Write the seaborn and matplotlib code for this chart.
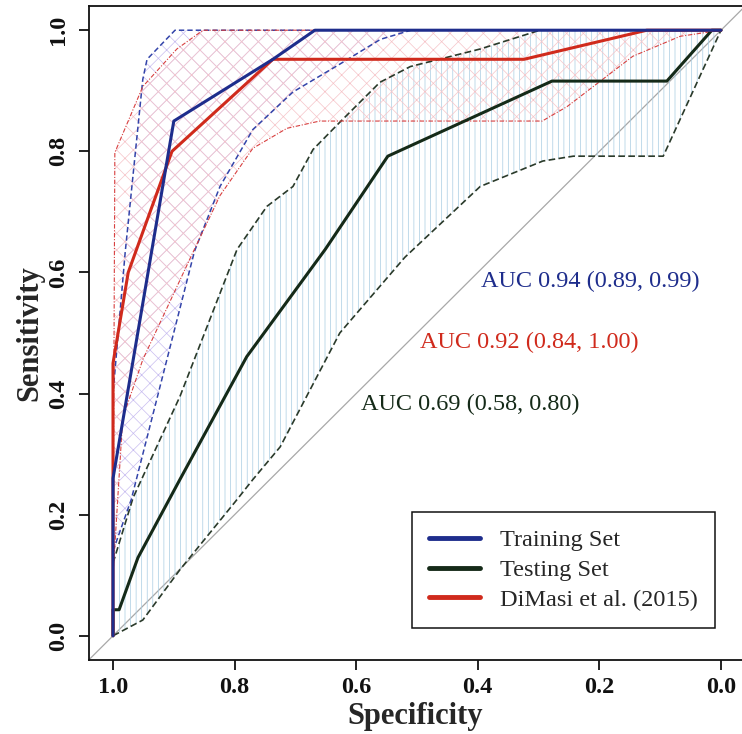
import matplotlib
matplotlib.use("Agg")
import matplotlib.pyplot as plt
import seaborn as sns
import numpy as np
from matplotlib.lines import Line2D

# ---------------- data ----------------
train_spec = [1.0, 1.0, 0.90, 0.737, 0.668, 0.0]
train_sens = [0.0, 0.26, 0.85, 0.952, 1.0, 1.0]

test_spec = [1.0, 1.0, 0.99, 0.959, 0.89, 0.78, 0.651, 0.548, 0.278, 0.089, 0.015, 0.0]
test_sens = [0.0, 0.043, 0.043, 0.129, 0.258, 0.461, 0.638, 0.792, 0.916, 0.916, 1.0, 1.0]

dimasi_spec = [1.0, 1.0, 0.975, 0.903, 0.737, 0.324, 0.122, 0.0]
dimasi_sens = [0.0, 0.45, 0.60, 0.80, 0.952, 0.952, 1.0, 1.0]

# confidence bands
train_up_spec = [1.0, 1.0, 0.98, 0.951, 0.944, 0.898, 0.0]
train_up_sens = [0.14, 0.40, 0.633, 0.919, 0.952, 1.0, 1.0]
train_lo_spec = [1.0, 0.97, 0.866, 0.824, 0.77, 0.704, 0.627, 0.56, 0.51, 0.0]
train_lo_sens = [0.14, 0.225, 0.635, 0.742, 0.836, 0.898, 0.944, 0.985, 1.0, 1.0]

dimasi_up_spec = [1.0, 0.997, 0.951, 0.895, 0.852, 0.0]
dimasi_up_sens = [0.10, 0.798, 0.907, 0.969, 1.0, 1.0]
dimasi_lo_spec = [1.0, 0.984, 0.951, 0.87, 0.824, 0.77, 0.714, 0.66, 0.294, 0.253, 0.145, 0.067, 0.0]
dimasi_lo_sens = [0.10, 0.36, 0.456, 0.63, 0.727, 0.805, 0.838, 0.85, 0.85, 0.874, 0.957, 0.99, 1.0]

test_up_spec = [1.0, 0.967, 0.89, 0.796, 0.747, 0.704, 0.671, 0.627, 0.561, 0.511, 0.396, 0.298, 0.0]
test_up_sens = [0.12, 0.228, 0.395, 0.638, 0.709, 0.742, 0.803, 0.848, 0.914, 0.94, 0.969, 1.0, 1.0]
test_lo_spec = [1.0, 0.951, 0.89, 0.796, 0.77, 0.725, 0.627, 0.52, 0.396, 0.293, 0.243, 0.095, 0.0]
test_lo_sens = [0.0, 0.026, 0.109, 0.225, 0.258, 0.312, 0.5, 0.625, 0.742, 0.784, 0.792, 0.792, 1.0]

labels = ["Training Set", "Testing Set", "DiMasi et al. (2015)"]
auc_texts = ["AUC 0.94 (0.89, 0.99)", "AUC 0.69 (0.58, 0.80)", "AUC 0.92 (0.84, 1.00)"]
auc_pos = [(0.215, 0.585), (0.413, 0.382), (0.316, 0.484)]
ticks = [1.0, 0.8, 0.6, 0.4, 0.2, 0.0]
tick_labels = ["1.0", "0.8", "0.6", "0.4", "0.2", "0.0"]

# ---------------- style ----------------
sns.set_style("ticks")
plt.rcParams["font.family"] = ["Liberation Serif", "DejaVu Serif"]
plt.rcParams["hatch.linewidth"] = 0.5

BLUE = "#1e2d8c"
GREEN = "#152a18"
RED = "#d02a1c"

fig = plt.figure(figsize=(7.42, 7.34), dpi=100)
W, H = 742, 734
l, r, b, t = 89, 745, 660, 6
ax = fig.add_axes([l / W, 1 - b / H, (r - l) / W, (b - t) / H])

# diagonal
ax.axline((1, 0), (0, 1), color="#a8a8a8", lw=0.9, zorder=1)

def band(us, un, ls, ln, hatch, hcol):
    xs = list(us) + list(ls)[::-1]
    ys = list(un) + list(ln)[::-1]
    ax.fill(xs, ys, facecolor="none", edgecolor=hcol, hatch=hatch, lw=0, zorder=2)

band(test_up_spec, test_up_sens, test_lo_spec, test_lo_sens, "|||", "#a8cce2")
band(train_up_spec, train_up_sens, train_lo_spec, train_lo_sens, "xx", "#c8bdf0")
band(dimasi_up_spec, dimasi_up_sens, dimasi_lo_spec, dimasi_lo_sens, "xx", "#f6c4c8")

# CI bound lines
for xs, ys in [(test_up_spec, test_up_sens), (test_lo_spec, test_lo_sens)]:
    sns.lineplot(x=xs, y=ys, sort=False, estimator=None, color="#2a3a2a", lw=1.2,
                 ax=ax, zorder=3).lines[-1].set_dashes([4, 2])
for xs, ys in [(train_up_spec, train_up_sens), (train_lo_spec, train_lo_sens)]:
    sns.lineplot(x=xs, y=ys, sort=False, estimator=None, color="#3344aa", lw=1.1,
                 ax=ax, zorder=3).lines[-1].set_dashes([3.5, 2])
for xs, ys in [(dimasi_up_spec, dimasi_up_sens), (dimasi_lo_spec, dimasi_lo_sens)]:
    sns.lineplot(x=xs, y=ys, sort=False, estimator=None, color="#d84040", lw=0.8,
                 ax=ax, zorder=3).lines[-1].set_dashes([4, 1.5, 1, 1.5])

# main curves
sns.lineplot(x=test_spec, y=test_sens, sort=False, estimator=None, color=GREEN, lw=2.2, ax=ax, zorder=5)
sns.lineplot(x=train_spec, y=train_sens, sort=False, estimator=None, color=BLUE, lw=2.2, ax=ax, zorder=6)
sns.lineplot(x=dimasi_spec, y=dimasi_sens, sort=False, estimator=None, color=RED, lw=2.2, ax=ax, zorder=5)

ax.set_xlim(1.0395, -0.0395)
ax.set_ylim(-0.04, 1.04)
ax.set_xticks(ticks)
ax.set_xticklabels(tick_labels)
ax.set_yticks(ticks)
ax.set_yticklabels(tick_labels)
for s in ax.spines.values():
    s.set_linewidth(1.3)
    s.set_color("#111111")
ax.tick_params(length=7.2, width=1.3, labelsize=17.5, colors="#111111")
ax.tick_params(axis="x", pad=5)
ax.tick_params(axis="y", pad=7, labelrotation=90)
for lab in ax.get_yticklabels():
    lab.set_va("center")
for lab in ax.get_xticklabels() + ax.get_yticklabels():
    lab.set_fontweight("bold")

ax.set_xlabel("Specificity", fontsize=22, fontweight="bold")
ax.set_ylabel("Sensitivity", fontsize=22, fontweight="bold")
ax.xaxis.set_label_coords(0.497, -0.064)
ax.yaxis.set_label_coords(-0.09, 0.5)
ax.yaxis.label.set_va("center")

for txt, (x, y), c in zip(auc_texts, auc_pos, [BLUE, GREEN, RED]):
    ax.text(x, y, txt, color=c, fontsize=17.5, ha="center", va="center", zorder=7)

handles = [Line2D([0], [0], color=c, lw=3.5) for c in [BLUE, GREEN, RED]]
leg = ax.legend(handles, labels, loc="lower right", bbox_to_anchor=(0.954, 0.049),
                borderaxespad=0, fontsize=17.5, frameon=True, fancybox=False,
                framealpha=1, edgecolor="#111111", handlelength=2.1,
                handletextpad=0.8, labelspacing=0.32, borderpad=0.7)
leg.get_frame().set_linewidth(1.1)
leg.set_zorder(10)

fig.savefig("out.png", dpi=100)
